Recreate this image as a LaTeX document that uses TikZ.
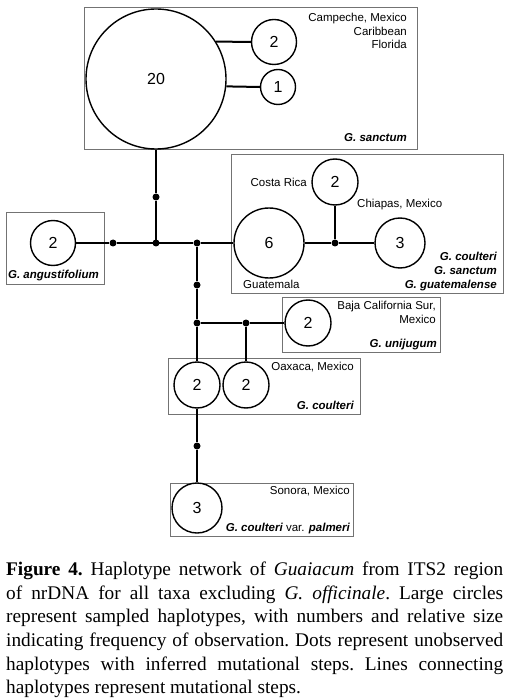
\documentclass[tikz,border=0pt]{standalone}
\usepackage{fontspec}
\setmainfont{Liberation Serif}
\newfontfamily\labfont{Liberation Sans}
\begin{document}
\begin{tikzpicture}[x=1pt,y=-1pt,
  hap/.style={circle,draw,line width=1.4pt,fill=white,inner sep=0pt,minimum size=#1,
    font=\labfont\fontsize{16}{16}\selectfont},
  dotn/.style={circle,fill,inner sep=0pt,minimum size=7pt},
  grp/.style={draw=black!55,line width=1pt},
  lbl/.style={font=\labfont\fontsize{11.5}{13}\selectfont,inner sep=0pt},
  sp/.style={font=\labfont\bfseries\itshape\fontsize{11.5}{13}\selectfont,inner sep=0pt},
  edgeln/.style={line width=2pt}
]
\useasboundingbox (0,0) rectangle (510,700);

% group frames
\draw[grp] (84,8) rectangle (417,150);
\draw[grp] (6,213) rectangle (104,284);
\draw[grp] (231,155) rectangle (503,293);
\draw[grp] (282,297) rectangle (440,352);
\draw[grp] (168,358) rectangle (360,414);
\draw[grp] (170,483) rectangle (353,536);

% haplotypes
\node[hap=140pt] (C20) at (156,79) {20};
\node[hap=45pt] (C2a) at (274,42) {2};
\node[hap=35pt] (C1) at (278,87) {1};
\node[hap=45pt] (Cang) at (53,243) {2};
\node[hap=70pt] (C6) at (269,243) {6};
\node[hap=50pt] (C3) at (400,243) {3};
\node[hap=46pt] (Ccr) at (335,182) {2};
\node[hap=46pt] (Cbc) at (308,323) {2};
\node[hap=46pt] (Cox1) at (197,385) {2};
\node[hap=46pt] (Cox2) at (246,385) {2};
\node[hap=50pt] (Cson) at (197,508) {3};

% unobserved haplotypes and junctions
\node[dotn] (d1) at (156,197) {};
\node[dotn] (d2) at (113,243) {};
\coordinate (j1) at (156,243);
\node[dotn] (j2) at (197,243) {};
\node[dotn] (d3) at (335,243) {};
\node[dotn] (d4) at (197,285) {};
\node[dotn] (j3) at (197,323) {};
\node[dotn] (d5) at (246,323) {};
\node[dotn] (d6) at (197,446) {};
\node[dotn] (j1d) at (156,243) {};

% connectors
\draw[edgeln] (C20.32) -- (C2a.west);
\draw[edgeln] (C20.-6.6) -- (C1.west);
\draw[edgeln] (C20.south) -- (d1) -- (j1);
\draw[edgeln] (Cang) -- (d2) -- (j1) -- (j2) -- (C6);
\draw[edgeln] (C6) -- (d3) -- (C3);
\draw[edgeln] (d3) -- (Ccr);
\draw[edgeln] (j2) -- (d4) -- (j3) -- (Cox1);
\draw[edgeln] (j3) -- (d5) -- (Cbc);
\draw[edgeln] (d5) -- (Cox2);
\draw[edgeln] (Cox1) -- (d6) -- (Cson);

% labels
\node[lbl,anchor=base east] (l1) at (407,22) {Campeche, Mexico};
\node[lbl,anchor=base east] (l2) at (407,35.5) {Caribbean};
\node[lbl,anchor=base east] (l3) at (407,49) {Florida};
\node[sp,anchor=base east] (s1) at (407,142) {G. sanctum};

\node[sp,anchor=base] (s2) at (53.5,278) {G. angustifolium};

\node[lbl,anchor=base east] (l4) at (307,187) {Costa Rica};
\node[lbl,anchor=base west] (l5) at (357,208) {Chiapas, Mexico};
\node[lbl,anchor=base west] (l6) at (243,288) {Guatemala};
\node[sp,anchor=base east] (s3) at (497,261) {G. coulteri};
\node[sp,anchor=base east] (s4) at (497,274.5) {G. sanctum};
\node[sp,anchor=base east] (s5) at (497,288) {G. guatemalense};

\node[lbl,anchor=base east] (l7) at (436,309) {Baja California Sur,};
\node[lbl,anchor=base east] (l8) at (436,323) {Mexico};
\node[sp,anchor=base east] (s6) at (437,347) {G. unijugum};

\node[lbl,anchor=base east] (l9) at (354,370) {Oaxaca, Mexico};
\node[sp,anchor=base east] (s7) at (354,409) {G. coulteri};

\node[lbl,anchor=base east] (l10) at (350,494) {Sonora, Mexico};
\node[sp,anchor=base east] (s8) at (350,531.5) {G. coulteri \textup{\mdseries var.} palmeri};

% caption
\node[anchor=north west,inner sep=0pt,text width=497pt,align=justify,
  font=\fontsize{19.3}{23.6}\selectfont] (cap) at (6,562)
 {\frenchspacing\textbf{Figure 4.} Haplotype network of \textit{Guaiacum} from ITS2 region\linebreak
 of nrDNA for all taxa excluding \textit{G. officinale}. Large circles\linebreak
 represent sampled haplotypes, with numbers and relative size\linebreak
 indicating frequency of observation. Dots represent unobserved\linebreak
 haplotypes with inferred mutational steps. Lines connecting\linebreak
 haplotypes represent mutational steps.};
\end{tikzpicture}
\end{document}
